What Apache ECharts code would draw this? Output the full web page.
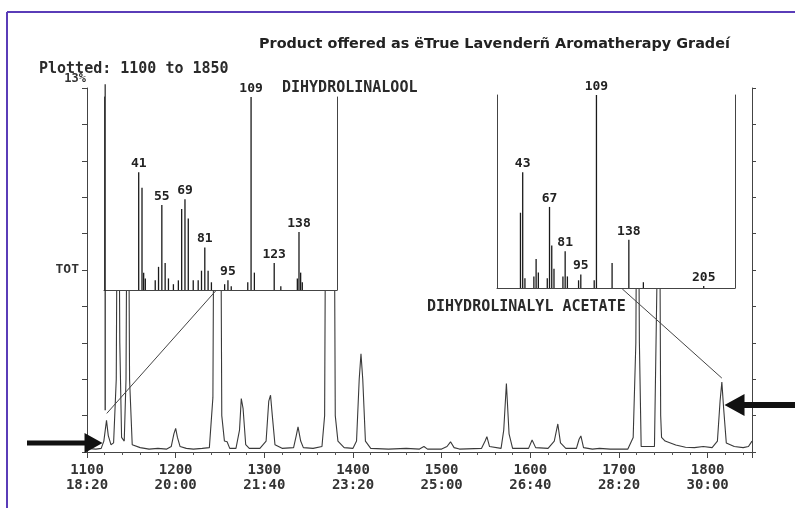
<!DOCTYPE html>
<html><head><meta charset="utf-8">
<script src="https://cdn.jsdelivr.net/npm/echarts@6/dist/echarts.min.js"></script>
<style>html,body{margin:0;padding:0;background:#fff}#c{width:795px;height:508px}</style>
</head><body><div id="c"></div>
<script>
// ---- text ----
const titleText = 'Product offered as \u00ebTrue Lavender\u00f1 Aromatherapy Grade\u00ed';
const plottedText = 'Plotted: 1100 to 1850';
const compoundA = 'DIHYDROLINALOOL';
const compoundB = 'DIHYDROLINALYL ACETATE';

// ---- main chromatogram (scan number, height in axis divisions; 10 divisions = 13%) ----
const scanTicks = [1100, 1200, 1300, 1400, 1500, 1600, 1700, 1800];
const timeLabels = ['18:20', '20:00', '21:40', '23:20', '25:00', '26:40', '28:20', '30:00'];
const yLabelValues = [5, 10];
const yLabelTexts = ['TOT', '13%'];
const traceScans = [1100,1110,1116,1119,1122,1124,1127,1130,1133,1135,1137,1139,1142,1144,1146,1148,1151,1160,1170,1180,1190,1195,1198,1200,1202,1205,1212,1220,1230,1238,1242,1244,1247,1250,1252,1255,1258,1261,1268,1272,1274,1276,1279,1283,1295,1302,1305,1307,1309,1312,1320,1333,1336,1338,1341,1344,1355,1365,1368,1370,1378,1380,1383,1390,1400,1404,1407,1409,1411,1414,1420,1440,1460,1475,1480,1484,1500,1506,1510,1514,1520,1545,1549,1551,1554,1567,1570,1573,1576,1580,1598,1602,1606,1620,1627,1631,1634,1640,1652,1655,1657,1660,1670,1678,1690,1710,1716,1719,1721,1723,1725,1740,1743,1745,1747,1748,1752,1764,1775,1785,1795,1805,1811,1814,1816,1818,1821,1830,1840,1846,1850];
const traceHeights = [0.1,0.08,0.1,0.3,0.87,0.45,0.2,0.25,2,12,3,0.4,0.3,2,12,2,0.2,0.12,0.08,0.1,0.08,0.15,0.5,0.65,0.4,0.15,0.1,0.08,0.1,0.12,1.5,12,12,12,1,0.3,0.28,0.1,0.1,0.6,1.47,1.2,0.2,0.1,0.1,0.3,1.4,1.56,1.0,0.2,0.1,0.12,0.45,0.69,0.3,0.12,0.1,0.15,1,12,12,1,0.3,0.12,0.1,0.3,2.0,2.7,2.0,0.3,0.1,0.08,0.1,0.08,0.15,0.08,0.08,0.15,0.28,0.12,0.08,0.1,0.3,0.42,0.15,0.1,0.6,1.88,0.5,0.1,0.1,0.33,0.12,0.1,0.3,0.77,0.25,0.1,0.1,0.35,0.44,0.12,0.08,0.1,0.08,0.08,0.4,3,12,3,0.15,0.15,5,12,1.0,0.4,0.3,0.19,0.13,0.12,0.15,0.12,0.3,1.4,1.92,1.2,0.25,0.15,0.12,0.15,0.3];

// ---- inset spectra (m/z, relative abundance %) ----
const linaloolMz = [41,43,44,45,51,53,55,57,59,62,65,67,69,71,74,77,79,81,83,85,93,95,97,107,109,111,123,127,137,138,139,140];
const linaloolAb = [61,53,9,6,5,12,44,14,6,3,5,42,47,37,5,5,10,22,10,4,3,5,2,4,100,9,14,2,6,30,9,4];
const linaloolLabeled = [41,55,69,81,95,109,123,138];
const acetateMz = [41,43,45,53,55,57,65,67,69,71,79,81,83,93,95,107,109,123,138,151,205];
const acetateAb = [39,60,5,6,15,8,5,42,22,10,6,19,6,4,7,4,100,13,25,3,1];
const acetateLabeled = [43,67,81,95,109,138,205];

// ---- annotations (data coordinates of main chart) ----
const connectorLeft = [[1122.3, 1.06], [1246, 4.45]];
const markerLeft = [[1120.5, 1.15], [1120.5, 10.1]];
const connectorRight = [[1703.7, 4.48], [1816, 2.03]];
const arrowLeftTip = [1117.5, 0.25];
const arrowRightTip = [1819, 1.29];

const MONO = '"DejaVu Sans Mono", "Liberation Mono", monospace';
const INK = '#333';

const trace = traceScans.map((s, i) => [s, traceHeights[i]]);
function spectrum(mz, ab, labeled) {
  return mz.map((m, i) => ({ value: [m, ab[i]], label: { show: labeled.includes(m) } }));
}

const chart = echarts.init(document.getElementById('c'), null, { renderer: 'canvas' });

const insetAxisLine = { show: true, onZero: false, lineStyle: { color: '#444', width: 1 } };
const spectrumLabel = {
  position: 'top', distance: 2, fontFamily: MONO, fontSize: 13, fontWeight: 'bold', color: '#222',
  formatter: p => String(p.value[0])
};
const hiddenAxis = { axisLine: insetAxisLine, axisTick: { show: false }, axisLabel: { show: false }, splitLine: { show: false }, z: 5 };

const option = {
  animation: false,
  backgroundColor: '#fff',
  title: {
    text: titleText, left: 254, top: 32,
    textStyle: { fontFamily: '"DejaVu Sans", Verdana, sans-serif', fontSize: 14.4, fontWeight: 'bold', color: '#222' }
  },
  grid: [
    { left: 87, top: 88, right: 43, bottom: 56, show: false },
    { left: 104, top: 97, width: 233, height: 193, show: true, backgroundColor: '#fff', borderWidth: 0, z: 3 },
    { left: 497, top: 95, width: 238, height: 193, show: true, backgroundColor: '#fff', borderWidth: 0, z: 3 }
  ],
  xAxis: [
    {
      type: 'value', gridIndex: 0, min: 1100, max: 1850, interval: 100,
      axisLine: { show: true, onZero: false, lineStyle: { color: '#444', width: 1 } },
      axisTick: { show: true, length: 6, lineStyle: { color: '#444' } },
      minorTick: { show: true, splitNumber: 5, length: 3, lineStyle: { color: '#555' } },
      splitLine: { show: false },
      axisLabel: {
        margin: 11, fontFamily: MONO, fontSize: 14, fontWeight: 'bold', color: INK, lineHeight: 15,
        formatter: v => { const i = scanTicks.indexOf(v); return i < 0 ? '' : scanTicks[i] + '\n' + timeLabels[i]; }
      }
    },
    Object.assign({ type: 'value', gridIndex: 1, min: 20, max: 161 }, hiddenAxis),
    Object.assign({ type: 'value', gridIndex: 2, min: 20, max: 233 }, hiddenAxis)
  ],
  yAxis: [
    {
      type: 'value', gridIndex: 0, min: 0, max: 10, interval: 1, position: 'left',
      axisLine: { show: true, onZero: false, lineStyle: { color: '#444', width: 1 } },
      axisTick: { show: true, length: 5, lineStyle: { color: '#444' } },
      splitLine: { show: false },
      axisLabel: {
        margin: 8, fontFamily: MONO, fontSize: 13, fontWeight: 'bold', color: INK,
        formatter: v => { const i = yLabelValues.indexOf(v); return (i < 0 || v === 10) ? '' : yLabelTexts[i]; }
      }
    },
    {
      type: 'value', gridIndex: 0, min: 0, max: 10, interval: 1, position: 'right',
      axisLine: { show: true, onZero: false, lineStyle: { color: '#444', width: 1 } },
      axisTick: { show: true, length: 4, lineStyle: { color: '#444' } },
      splitLine: { show: false }, axisLabel: { show: false }
    },
    Object.assign({ type: 'value', gridIndex: 1, min: 0, max: 100, position: 'left' }, hiddenAxis),
    Object.assign({ type: 'value', gridIndex: 1, min: 0, max: 100, position: 'right' }, hiddenAxis),
    Object.assign({ type: 'value', gridIndex: 2, min: 0, max: 100, position: 'left' }, hiddenAxis),
    Object.assign({ type: 'value', gridIndex: 2, min: 0, max: 100, position: 'right' }, hiddenAxis)
  ],
  series: [
    {
      name: 'TOT', type: 'line', xAxisIndex: 0, yAxisIndex: 0, data: trace, showSymbol: false, symbol: 'none',
      lineStyle: { color: '#3a3a3a', width: 1.1 }, clip: true, z: 1
    },
    {
      name: 'connectorLeft', type: 'line', xAxisIndex: 0, yAxisIndex: 0, data: connectorLeft, symbol: 'none',
      lineStyle: { color: '#444', width: 1 }, z: 6, clip: false
    },
    {
      name: 'markerLeft', type: 'line', xAxisIndex: 0, yAxisIndex: 0, data: markerLeft, symbol: 'none',
      lineStyle: { color: '#222', width: 1.2 }, z: 6, clip: false
    },
    {
      name: 'connectorRight', type: 'line', xAxisIndex: 0, yAxisIndex: 0, data: connectorRight, symbol: 'none',
      lineStyle: { color: '#444', width: 1 }, z: 6, clip: false
    },
    {
      name: compoundA, type: 'bar', xAxisIndex: 1, yAxisIndex: 2, barWidth: 1.3,
      data: spectrum(linaloolMz, linaloolAb, linaloolLabeled),
      itemStyle: { color: '#1a1a1a' }, label: spectrumLabel, z: 4
    },
    {
      name: compoundB, type: 'bar', xAxisIndex: 2, yAxisIndex: 4, barWidth: 1.3,
      data: spectrum(acetateMz, acetateAb, acetateLabeled),
      itemStyle: { color: '#1a1a1a' }, label: spectrumLabel, z: 4
    }
  ]
};
chart.setOption(option);

const L = chart.convertToPixel({ gridIndex: 0 }, arrowLeftTip);
const R = chart.convertToPixel({ gridIndex: 0 }, arrowRightTip);
const T = chart.convertToPixel({ gridIndex: 0 }, [scanTicks[0], yLabelValues[1]]);
const textStyleMono = { fontFamily: MONO, fontSize: 15, fontWeight: 'bold', fill: '#2a2a2a' };

chart.setOption({
  graphic: [
    { type: 'rect', shape: { x: 103, y: 84, width: 235, height: 13 }, style: { fill: '#fff' }, z: 2 },
    { type: 'rect', shape: { x: 496, y: 84, width: 240, height: 11 }, style: { fill: '#fff' }, z: 2 },
    { type: 'line', shape: { x1: 7, y1: 12, x2: 795, y2: 12 }, style: { stroke: '#5a3cb8', lineWidth: 2 }, z: 10 },
    { type: 'line', shape: { x1: 7, y1: 12, x2: 7, y2: 508 }, style: { stroke: '#5a3cb8', lineWidth: 2 }, z: 10 },
    { type: 'text', x: 39, y: 69, style: Object.assign({ text: plottedText, verticalAlign: 'middle' }, textStyleMono), z: 10 },
    { type: 'text', x: T[0] - 1, y: T[1] - 9, style: { text: yLabelTexts[1], align: 'right', verticalAlign: 'middle', fontFamily: MONO, fontSize: 12, fontWeight: 'bold', fill: '#333' }, z: 10 },
    { type: 'text', x: 282, y: 88, style: Object.assign({ text: compoundA, verticalAlign: 'middle' }, textStyleMono), z: 10 },
    { type: 'text', x: 427, y: 307, style: Object.assign({ text: compoundB, verticalAlign: 'middle' }, textStyleMono), z: 10 },
    {
      type: 'polygon', z: 10,
      shape: { points: [[27, L[1] - 2.5], [L[0] - 18, L[1] - 2.5], [L[0] - 18, L[1] - 10], [L[0], L[1]], [L[0] - 18, L[1] + 10], [L[0] - 18, L[1] + 2.5], [27, L[1] + 2.5]] },
      style: { fill: '#111' }
    },
    {
      type: 'polygon', z: 10,
      shape: { points: [[795, R[1] - 3], [R[0] + 20, R[1] - 3], [R[0] + 20, R[1] - 11], [R[0], R[1]], [R[0] + 20, R[1] + 11], [R[0] + 20, R[1] + 3], [795, R[1] + 3]] },
      style: { fill: '#111' }
    }
  ]
});
</script>
</body></html>
